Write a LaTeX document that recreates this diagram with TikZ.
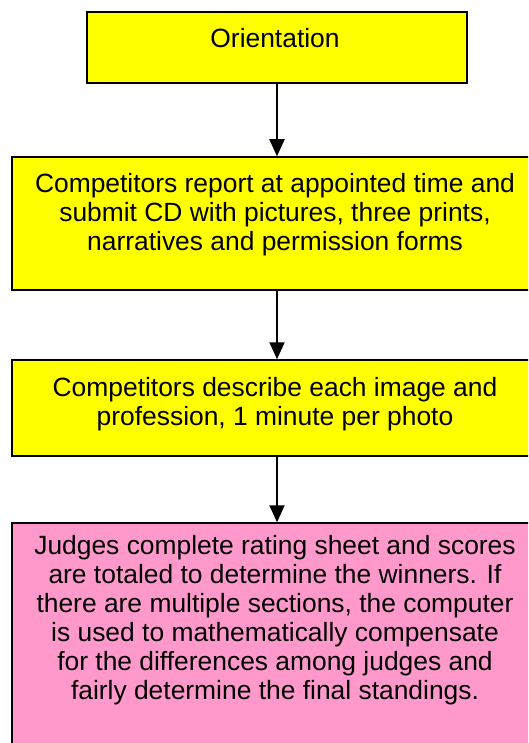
\documentclass[tikz,border=0pt]{standalone}
\usepackage{fontspec}
\setmainfont{Liberation Sans}
\usetikzlibrary{arrows.meta}
\definecolor{yelc}{HTML}{FFFF00}
\definecolor{pinkc}{HTML}{FF99CC}
\begin{document}
\begin{tikzpicture}[x=1pt,y=-1pt,
  box/.style={draw=black,line width=1.5pt,rectangle,inner sep=0pt},
  yelbox/.style={box,fill=yelc},
  pinkbox/.style={box,fill=pinkc},
  txt/.style={inner sep=0pt,anchor=north,align=center,font=\fontsize{26.4}{29}\selectfont},
  arr/.style={line width=2pt,-{Triangle[width=15pt,length=17pt]}}]
\clip (0,0) rectangle (528,743);
\fill[white] (0,0) rectangle (528,743);
\node[yelbox,minimum width=380pt,minimum height=71pt] (b1) at (277,47.5) {};
\node[yelbox,minimum width=530pt,minimum height=133pt] (b2) at (277,223.5) {};
\node[yelbox,minimum width=530pt,minimum height=96pt] (b3) at (277,408) {};
\node[pinkbox,minimum width=530pt,minimum height=257pt] (b4) at (277,651.5) {};
\node[txt] (t1) at (275,28) {Orientation};
\node[txt] (t2) at (275,173) {Competitors report at appointed time and\\submit CD with pictures, three prints,\\narratives and permission forms};
\node[txt] (t3) at (275,377) {Competitors describe each image and\\profession, 1 minute per photo};
\node[txt] (t4) at (275,535) {Judges complete rating sheet and scores\\are totaled to determine the winners. If\\there are multiple sections, the computer\\is used to mathematically compensate\\for the differences among judges and\\fairly determine the final standings.};
\draw[arr] (b1) -- (b2);
\draw[arr] (b2) -- (b3);
\draw[arr] (b3) -- (b4);
\end{tikzpicture}
\end{document}
